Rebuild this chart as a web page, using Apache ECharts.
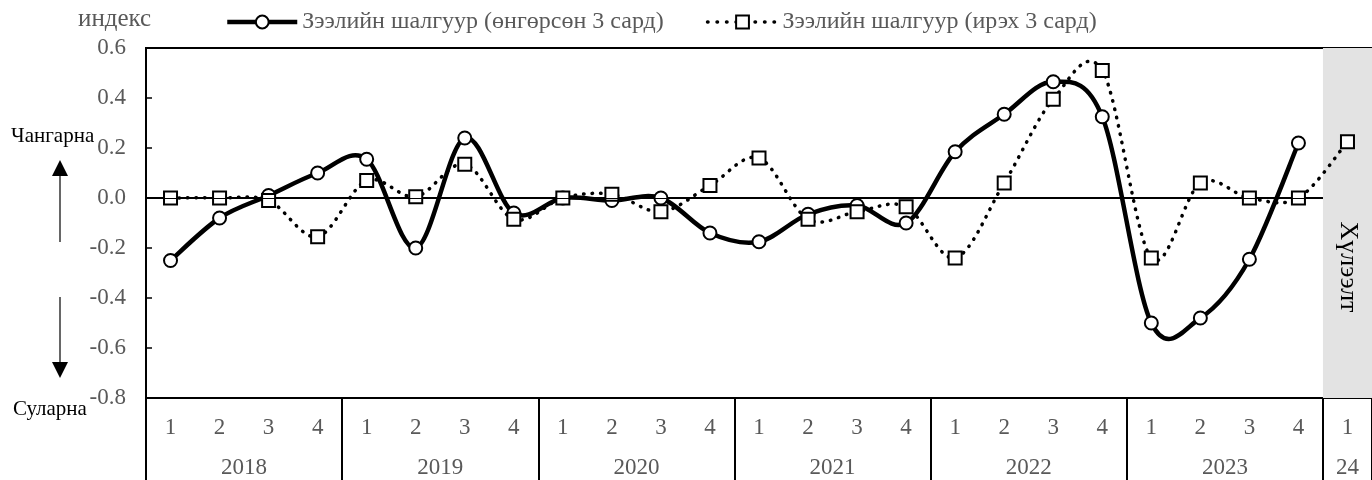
<!DOCTYPE html>
<html>
<head>
<meta charset="utf-8">
<script src="https://cdn.jsdelivr.net/npm/echarts@6/dist/echarts.min.js"></script>
<style>
  html, body { margin: 0; padding: 0; background: #fff; }
  #chart { width: 1372px; height: 480px; }
</style>
</head>
<body>
<div id="chart"></div>
<script>
// 数据
const years = ['2018', '2019', '2020', '2021', '2022', '2023', '24']
const quartersPerYear = [4, 4, 4, 4, 4, 4, 1]
const pastName = 'Зээлийн шалгуур (өнгөрсөн 3 сард)'
const nextName = 'Зээлийн шалгуур (ирэх 3 сард)'
const pastValues = [-0.25, -0.08, 0.01, 0.10, 0.155, -0.20, 0.24, -0.06, 0.0, -0.01, 0.0, -0.14,
  -0.175, -0.065, -0.03, -0.10, 0.185, 0.335, 0.465, 0.325, -0.50, -0.48, -0.245, 0.22, null]
const nextValues = [0.0, 0.0, -0.01, -0.155, 0.07, 0.005, 0.135, -0.085, 0.0, 0.015, -0.055, 0.05,
  0.16, -0.085, -0.055, -0.035, -0.24, 0.06, 0.395, 0.51, -0.24, 0.06, 0.0, 0.0, 0.225]
const forecastLabel = 'Хүлээлт'

// 季度标签 + 年份分隔位置
let quarters = []
let bounds = [0]
let yearCenters = []
quartersPerYear.forEach((n) => {
  for (let q = 1; q <= n; q++) quarters.push(String(q))
  let start = bounds[bounds.length - 1]
  yearCenters.push(start + n / 2)
  bounds.push(start + n)
})
const total = quarters.length
const forecastStart = bounds[bounds.length - 2]

const font = 'Liberation Serif'
const grey = '#595959'

// Excel 风格的平滑曲线 (Catmull-Rom)
let smoothPath = (pts) => {
  let d = 'M' + pts[0][0] + ' ' + pts[0][1]
  for (let i = 0; i < pts.length - 1; i++) {
    let p0 = pts[i - 1] || pts[i]
    let p1 = pts[i]
    let p2 = pts[i + 1]
    let p3 = pts[i + 2] || pts[i + 1]
    let c1x = p1[0] + (p2[0] - p0[0]) / 6
    let c1y = p1[1] + (p2[1] - p0[1]) / 6
    let c2x = p2[0] - (p3[0] - p1[0]) / 6
    let c2y = p2[1] - (p3[1] - p1[1]) / 6
    d += ' C' + c1x + ' ' + c1y + ' ' + c2x + ' ' + c2y + ' ' + p2[0] + ' ' + p2[1]
  }
  return d
}

let curveSeries = (name, values, style) => ({
  name: name,
  type: 'custom',
  silent: true,
  clip: false,
  data: values.map((v, i) => [i, v]),
  renderItem: (params, api) => {
    if (params.dataIndex !== 0) return null
    let pts = []
    values.forEach((v, i) => {
      if (v !== null) pts.push(api.coord([i, v]))
    })
    return {
      type: 'path',
      shape: { pathData: smoothPath(pts) },
      style: Object.assign({ fill: 'none', stroke: '#000' }, style)
    }
  }
})

let markerSeries = (name, values, symbol) => ({
  name: name,
  type: 'line',
  data: values,
  symbol: symbol,
  symbolSize: 13,
  showAllSymbol: true,
  lineStyle: { opacity: 0 },
  itemStyle: { color: '#fff', borderColor: '#000', borderWidth: 2 }
})

let mychart = echarts.init(document.getElementById('chart'))
let option = {
  animation: false,
  textStyle: { fontFamily: font },
  grid: {
    left: 146, right: 0, top: 48, bottom: 82,
    show: true, borderColor: '#000', borderWidth: 2
  },
  legend: {
    left: 220, top: 5,
    itemWidth: 70, itemHeight: 16, itemGap: 42,
    textStyle: { fontFamily: font, fontSize: 24, color: grey },
    data: [
      { name: pastName, lineStyle: { opacity: 1, width: 4.5, color: '#000' } },
      { name: nextName, lineStyle: { opacity: 1, width: 3.5, color: '#000', type: [0.5, 9], cap: 'round' } }
    ]
  },
  xAxis: [
    {
      type: 'category',
      data: quarters,
      axisLine: { lineStyle: { color: '#000', width: 2 } },
      axisTick: { show: false },
      axisLabel: { interval: 0, margin: 18, fontSize: 23, color: grey, fontFamily: font }
    },
    {
      type: 'value',
      min: 0, max: total,
      position: 'bottom',
      axisLine: { show: false },
      splitLine: { show: false },
      axisTick: {
        show: true, length: 83, customValues: bounds,
        lineStyle: { color: '#000', width: 2 }
      },
      axisLabel: {
        margin: 58, fontSize: 23, color: grey, fontFamily: font,
        customValues: yearCenters,
        formatter: (v) => years[yearCenters.indexOf(v)] || ''
      }
    }
  ],
  yAxis: {
    type: 'value',
    min: -0.8, max: 0.6, interval: 0.2,
    axisLine: { show: true, lineStyle: { color: '#000', width: 2 } },
    axisTick: { show: true, inside: true, length: 6, lineStyle: { color: '#000', width: 1.5 } },
    splitLine: { show: false },
    axisLabel: {
      margin: 20, fontSize: 23, color: grey, fontFamily: font,
      formatter: (v) => v.toFixed(1)
    }
  },
  graphic: [
    { type: 'text', left: 78, top: 7, style: { text: 'индекс', font: '25px "Liberation Serif"', fill: grey } },
    { type: 'text', left: 11, top: 126, style: { text: 'Чангарна', font: '21px "Liberation Serif"', fill: '#000' } },
    { type: 'text', left: 13, top: 399, style: { text: 'Суларна', font: '21px "Liberation Serif"', fill: '#000' } },
    { type: 'line', shape: { x1: 60, y1: 172, x2: 60, y2: 242 }, style: { stroke: '#000', lineWidth: 1.2 } },
    { type: 'polygon', shape: { points: [[60, 160], [52, 176], [68, 176]] }, style: { fill: '#000' } },
    { type: 'line', shape: { x1: 60, y1: 297, x2: 60, y2: 366 }, style: { stroke: '#000', lineWidth: 1.2 } },
    { type: 'polygon', shape: { points: [[60, 378], [52, 362], [68, 362]] }, style: { fill: '#000' } }
  ],
  series: [
    {
      name: 'forecast',
      type: 'line',
      xAxisIndex: 1,
      data: [],
      silent: true,
      markArea: {
        silent: true,
        itemStyle: { color: '#e3e3e3' },
        label: {
          show: true, position: 'inside', rotate: -90, offset: [44, 0],
          fontFamily: font, fontSize: 26, color: '#000'
        },
        data: [[{ xAxis: forecastStart, name: forecastLabel }, { xAxis: total }]]
      },
      markLine: {
        silent: true,
        symbol: 'none',
        label: { show: false },
        lineStyle: { color: '#000', width: 1.2, type: 'solid' },
        data: [[{ coord: [0, 0] }, { coord: [forecastStart, 0] }]]
      }
    },
    curveSeries('pastCurve', pastValues, { lineWidth: 4.5 }),
    markerSeries(pastName, pastValues, 'circle'),
    curveSeries('nextCurve', nextValues, { lineWidth: 3.5, lineDash: [0.5, 8], lineCap: 'round' }),
    markerSeries(nextName, nextValues, 'rect')
  ]
}
mychart.setOption(option)
</script>
</body>
</html>
